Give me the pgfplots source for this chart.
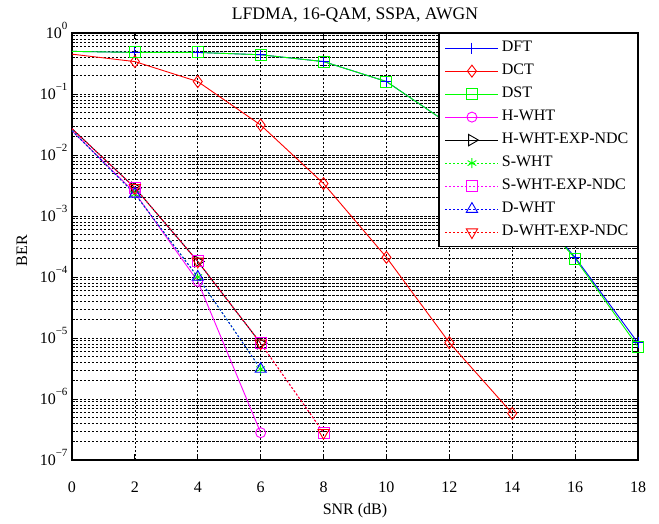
\documentclass[border=0pt]{standalone}
\usepackage{fontspec}
\setmainfont{Liberation Serif}
\usepackage{pgfplots}
\pgfplotsset{compat=1.18}
\newcommand\bigf{\fontsize{16}{19}\selectfont}
\newcommand\tl[1]{10\smash{\raisebox{9pt}{\fontsize{11}{11}\selectfont #1}}}
\definecolor{mgreen}{rgb}{0,1,0}
\definecolor{mblue}{rgb}{0,0,1}
\definecolor{mred}{rgb}{1,0,0}
\definecolor{mmag}{rgb}{1,0,1}
\begin{document}
\begin{tikzpicture}[font=\bigf]
\path[use as bounding box] (-72pt,-63pt) rectangle (587pt,460pt);
\begin{axis}[
  at={(0pt,0pt)}, anchor=south west,
  scale only axis, width=566pt, height=427pt,
  xmin=0, xmax=18, ymode=log, ymin=1e-7, ymax=1,
  xtick={0,2,...,18},
  xticklabels={0,2,4,6,8,10,12,14,16,18},
  ytick={1e-7,1e-6,1e-5,1e-4,1e-3,1e-2,1e-1,1},
  yticklabels={\tl{−7},\tl{−6},\tl{−5},\tl{−4},\tl{−3},\tl{−2},\tl{−1},\tl{0}},
  minor ytick={2e-7,3e-7,4e-7,5e-7,6e-7,7e-7,8e-7,9e-7,
    2e-6,3e-6,4e-6,5e-6,6e-6,7e-6,8e-6,9e-6,
    2e-5,3e-5,4e-5,5e-5,6e-5,7e-5,8e-5,9e-5,
    2e-4,3e-4,4e-4,5e-4,6e-4,7e-4,8e-4,9e-4,
    2e-3,3e-3,4e-3,5e-3,6e-3,7e-3,8e-3,9e-3,
    2e-2,3e-2,4e-2,5e-2,6e-2,7e-2,8e-2,9e-2,
    2e-1,3e-1,4e-1,5e-1,6e-1,7e-1,8e-1,9e-1},
  xmajorgrids, ymajorgrids, yminorgrids,
  grid style={black, line width=0.6pt, dash pattern=on 2.5pt off 1.5pt},
  minor grid style={black, line width=0.6pt, dash pattern=on 2.5pt off 1.5pt},
  axis line style={line width=1.3pt},
  tick align=inside,
  major tick length=6pt, minor tick length=3pt,
  every tick/.style={black, line width=0.8pt},
  tick label style={font=\bigf},
  xticklabel style={yshift=-18pt},
  yticklabel style={xshift=-1pt},
  title={LFDMA, 16-QAM, SSPA, AWGN},
  title style={font=\fontsize{17.6}{21}\selectfont, at={(axis description cs:0.5,1)}, anchor=base, yshift=7.5pt, inner sep=0pt},
  xlabel={SNR (dB)},
  xlabel style={font=\bigf, at={(axis description cs:0.5,0)}, anchor=base, yshift=-54pt, inner sep=0pt},
  ylabel={BER},
  ylabel style={font=\bigf, at={(axis description cs:0,0.49)}, anchor=center, yshift=50pt, inner sep=0pt},
  legend cell align=left,
  legend style={font=\bigf, at={(1,1)}, anchor=north east, draw=black, line width=1.2pt,
    inner xsep=6pt, inner ysep=3pt, fill=white,
    nodes={inner xsep=3pt, inner ysep=4pt, text height=11pt, text depth=4pt}},
  legend image code/.code={\draw[mark repeat=2,mark phase=2] plot coordinates {(0pt,0pt) (26.5pt,0pt) (53pt,0pt)};},
  every axis plot/.append style={line width=0.9pt, mark phase=2, mark repeat=1},
]
\addplot[mblue, mark=+, mark size=5.5pt] coordinates {(0,0.50)(2,0.48)(4,0.48)(6,0.44)(8,0.34)(10,0.16)(12,0.032)(14,3.2e-3)(16,2.1e-4)(18,8.3e-6)};
\addlegendentry{DFT}
\addplot[mred, mark=diamond, mark size=6pt] coordinates {(0,0.45)(2,0.34)(4,0.16)(6,0.031)(8,3.4e-3)(10,2.1e-4)(12,8.4e-6)(14,5.8e-7)};
\addlegendentry{DCT}
\addplot[mgreen, mark=square, mark size=5.5pt] coordinates {(0,0.50)(2,0.48)(4,0.48)(6,0.44)(8,0.34)(10,0.16)(12,0.032)(14,3.1e-3)(16,2.0e-4)(18,7.2e-6)};
\addlegendentry{DST}
\addplot[mmag, mark=o, mark size=5pt] coordinates {(0,0.025)(2,2.4e-3)(4,8.5e-5)(6,2.8e-7)};
\addlegendentry{H-WHT}
\addplot[black, mark=triangle, mark size=6.5pt, mark options={rotate=-90}] coordinates {(0,0.027)(2,2.9e-3)(4,1.8e-4)(6,8.2e-6)};
\addlegendentry{H-WHT-EXP-NDC}
\addplot[mgreen, dash pattern=on 2pt off 2pt, mark=asterisk, mark size=5pt, mark options={solid}] coordinates {(0,0.025)(2,2.3e-3)(4,1.0e-4)(6,3.1e-6)};
\addlegendentry{S-WHT}
\addplot[mmag, dash pattern=on 2pt off 2pt, mark=square, mark size=5.5pt, mark options={solid}] coordinates {(0,0.027)(2,2.9e-3)(4,1.8e-4)(6,8.2e-6)(8,2.8e-7)};
\addlegendentry{S-WHT-EXP-NDC}
\addplot[mblue, dash pattern=on 2pt off 2pt, mark=triangle, mark size=6.5pt, mark options={solid}] coordinates {(0,0.025)(2,2.3e-3)(4,1.0e-4)(6,3.1e-6)};
\addlegendentry{D-WHT}
\addplot[mred, dash pattern=on 2pt off 2pt, mark=triangle, mark size=6.5pt, mark options={solid, rotate=180}] coordinates {(0,0.027)(2,2.9e-3)(4,1.8e-4)(6,8.2e-6)(8,2.8e-7)};
\addlegendentry{D-WHT-EXP-NDC}
\end{axis}
\end{tikzpicture}
\end{document}
